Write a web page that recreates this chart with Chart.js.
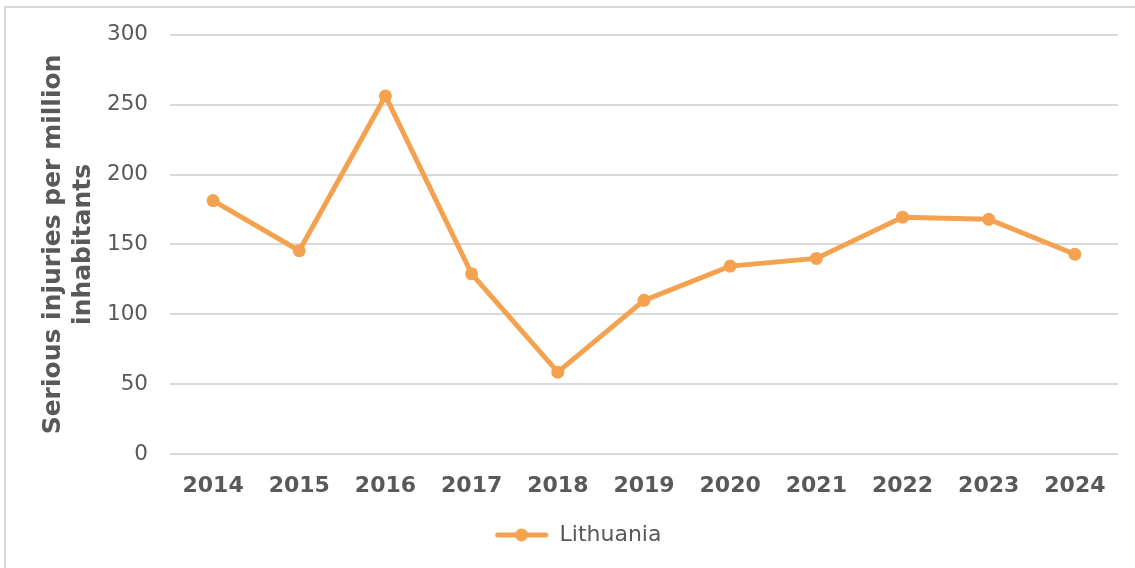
<!DOCTYPE html>
<html>
<head>
<meta charset="utf-8">
<script src="https://cdn.jsdelivr.net/npm/chart.js@4"></script>
<style>
  html, body { margin: 0; padding: 0; background: #fff; }
  canvas { display: block; }
</style>
</head>
<body>
<canvas id="grafico" width="1135" height="568"></canvas>
<script>
let anios = ["2014", "2015", "2016", "2017", "2018", "2019", "2020", "2021", "2022", "2023", "2024"];
let lituania = [181.4, 145.5, 256.3, 129, 58.6, 110, 134.5, 140, 169.5, 168, 143];
let ticksY = [0, 50, 100, 150, 200, 250, 300];

const naranja = '#F4A24F';
const gris = '#595959';
const fuente = 'DejaVu Sans';

// icono de la leyenda: linea con punto
function iconoLeyenda() {
  let c = document.createElement('canvas');
  c.width = 54;
  c.height = 16;
  let g = c.getContext('2d');
  g.strokeStyle = naranja;
  g.lineWidth = 5;
  g.lineCap = 'round';
  g.beginPath();
  g.moveTo(3, 8);
  g.lineTo(51, 8);
  g.stroke();
  g.fillStyle = naranja;
  g.beginPath();
  g.arc(27, 8, 6.5, 0, Math.PI * 2);
  g.fill();
  return c;
}

const marco = {
  id: 'marco',
  beforeDraw(chart) {
    let ctx = chart.ctx;
    ctx.save();
    ctx.fillStyle = '#fff';
    ctx.fillRect(0, 0, chart.width, chart.height);
    ctx.strokeStyle = '#d9d9d9';
    ctx.lineWidth = 2;
    ctx.strokeRect(5, 7, chart.width + 20, chart.height + 20);
    ctx.restore();
  },
  // la leyenda va un poco a la derecha, como en el original
  afterLayout(chart) {
    if (chart.legend) {
      chart.legend.left += 19;
      chart.legend.right += 19;
    }
  }
};

const icono = iconoLeyenda();
const ctx = document.getElementById('grafico').getContext('2d');
let chart = new Chart(ctx, {
  type: 'line',
  data: {
    labels: anios,
    datasets: [{
      label: 'Lithuania',
      data: lituania,
      borderColor: naranja,
      backgroundColor: naranja,
      borderWidth: 5,
      pointRadius: 6.5,
      pointBorderWidth: 0,
      pointBackgroundColor: naranja,
      tension: 0
    }]
  },
  options: {
    responsive: false,
    animation: false,
    layout: {
      padding: { top: 34, right: 17, left: 0, bottom: 12 }
    },
    scales: {
      x: {
        offset: true,
        grid: { display: false },
        border: { display: false },
        ticks: {
          color: gris,
          padding: 11,
          maxRotation: 0,
          font: { family: fuente, size: 22, weight: 'bold' }
        },
        afterFit: s => { s.height = 47; }
      },
      y: {
        min: 0,
        max: 300,
        afterBuildTicks: s => { s.ticks = ticksY.map(v => ({ value: v })); },
        grid: { color: '#d9d9d9', lineWidth: 2, drawTicks: false },
        border: { display: false },
        ticks: {
          color: gris,
          padding: 22,
          font: { family: fuente, size: 21.5 }
        },
        title: {
          display: true,
          text: ['Serious injuries per million', 'inhabitants'],
          color: gris,
          padding: { top: 38, bottom: 0 },
          font: { family: fuente, size: 25, weight: 'bold', lineHeight: 1.2 }
        },
        afterFit: s => { s.width = 170; }
      }
    },
    plugins: {
      legend: {
        position: 'bottom',
        labels: {
          color: gris,
          padding: 23,
          usePointStyle: true,
          pointStyleWidth: 54,
          font: { family: fuente, size: 22 },
          generateLabels: c => c.data.datasets.map((d, i) => ({
            text: d.label,
            pointStyle: icono,
            fillStyle: naranja,
            strokeStyle: naranja,
            lineWidth: 0,
            fontColor: gris,
            datasetIndex: i
          }))
        }
      },
      tooltip: { enabled: false }
    }
  },
  plugins: [marco]
});
</script>
</body>
</html>
